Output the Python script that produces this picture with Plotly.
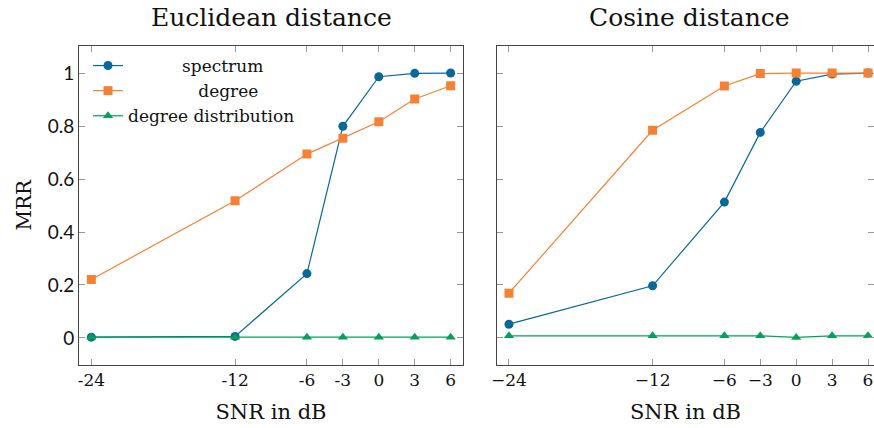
import plotly.graph_objects as go

snr = [-24, -12, -6, -3, 0, 3, 6]
x_ticktext_left = ["-24", "-12", "-6", "-3", "0", "3", "6"]
x_ticktext_right = ["\u221224", "\u221212", "\u22126", "\u22123", "0", "3", "6"]
y_tickvals = [0, 0.2, 0.4, 0.6, 0.8, 1]
y_ticktext = ["0", "0.2", "0.4", "0.6", "0.8", "1"]

euc_spectrum = [0.003, 0.006, 0.243, 0.799, 0.986, 0.999, 1.0]
euc_degree = [0.221, 0.518, 0.694, 0.754, 0.816, 0.902, 0.952]
euc_degdist = [0.003, 0.003, 0.003, 0.003, 0.003, 0.003, 0.003]

cos_spectrum = [0.052, 0.197, 0.513, 0.776, 0.969, 0.996, 1.0]
cos_degree = [0.169, 0.784, 0.951, 0.998, 1.0, 1.0, 1.0]
cos_degdist = [0.008, 0.008, 0.008, 0.008, 0.002, 0.008, 0.008]

names = ["spectrum", "degree", "degree distribution"]
legend_labels = ["\u00a0" * 10 + "spectrum", "\u00a0" * 13 + "degree", "degree distribution"]
colors = ["#0a6896", "#f58135", "#0a9e5a"]
symbols = ["circle", "square", "triangle-up"]
msizes = [9, 9, 9]

SERIF = "DejaVu Serif"
W, H = 874, 428

fig = go.Figure()
series_left = [euc_spectrum, euc_degree, euc_degdist]
series_right = [cos_spectrum, cos_degree, cos_degdist]
for i in range(3):
    fig.add_trace(go.Scatter(
        x=snr, y=series_left[i], mode="lines+markers", name=legend_labels[i],
        line=dict(color=colors[i], width=1.2),
        marker=dict(symbol=symbols[i], size=msizes[i], color=colors[i]),
        xaxis="x", yaxis="y", showlegend=True))
for i in range(3):
    fig.add_trace(go.Scatter(
        x=snr, y=series_right[i], mode="lines+markers", name=names[i],
        line=dict(color=colors[i], width=1.2),
        marker=dict(symbol=symbols[i], size=msizes[i], color=colors[i]),
        xaxis="x2", yaxis="y2", showlegend=False))

ydom = [(H - 365) / H, (H - 45.5) / H]
axis_common = dict(showgrid=False, zeroline=False, showline=True, linecolor="#444",
                   linewidth=1, ticks="inside", ticklen=6, tickcolor="#999", tickwidth=1,
                   automargin=False)

fig.update_layout(
    width=W, height=H,
    margin=dict(l=0, r=0, t=0, b=0),
    paper_bgcolor="white", plot_bgcolor="white",
    font=dict(family=SERIF, color="#111"),
    xaxis=dict(domain=[79 / W, 463 / W], range=[-25.03, 7.03], tickvals=snr,
               ticktext=x_ticktext_left, mirror="ticks",
               tickfont=dict(family=SERIF, size=17, color="#111"),
               title=dict(text="SNR in dB", font=dict(family=SERIF, size=21, color="#111"), standoff=14),
               anchor="y", **axis_common),
    yaxis=dict(domain=ydom, range=[-0.102, 1.104], tickvals=y_tickvals, ticktext=y_ticktext,
               mirror="ticks", tickfont=dict(family="Lato", size=19, color="#111"),
               title=dict(text="MRR", font=dict(family=SERIF, size=20, color="#111"), standoff=10),
               anchor="x", **axis_common),
    xaxis2=dict(domain=[497 / W, 1.0], range=[-25.0, 6.5], tickvals=snr,
                ticktext=x_ticktext_right, mirror="ticks",
                tickfont=dict(family=SERIF, size=17, color="#111"),
                title=dict(text="SNR in dB", font=dict(family=SERIF, size=21, color="#111"), standoff=14),
                anchor="y2", **axis_common),
    yaxis2=dict(domain=ydom, range=[-0.102, 1.104], tickvals=y_tickvals, showticklabels=False,
                mirror="ticks", anchor="x2", **axis_common),
    legend=dict(x=88 / W, y=1 - 48 / H, xanchor="left", yanchor="top",
                bgcolor="rgba(0,0,0,0)", borderwidth=0,
                font=dict(family=SERIF, size=17, color="#111"), tracegroupgap=0),
    annotations=[
        dict(text="Euclidean distance", x=(79 + 463) / 2 / W, y=1 - 18 / H, xref="paper", yref="paper",
             xanchor="center", yanchor="middle", showarrow=False,
             font=dict(family=SERIF, size=25, color="#111")),
        dict(text="Cosine distance", x=689 / W, y=1 - 18 / H, xref="paper", yref="paper",
             xanchor="center", yanchor="middle", showarrow=False,
             font=dict(family=SERIF, size=25, color="#111")),
    ],
)

fig.write_html("out.html", config={"displayModeBar": False},
               post_script="document.body.style.margin='0';document.body.style.overflow='hidden';")
